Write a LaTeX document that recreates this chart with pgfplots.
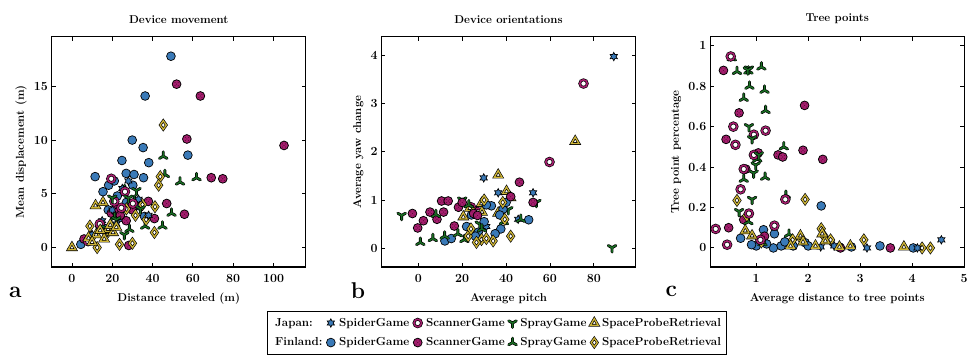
\documentclass[border=0pt]{standalone}
\usepackage{pgfplots}
\pgfplotsset{compat=1.18}
\definecolor{cblue}{RGB}{58,122,184}
\definecolor{cmag}{RGB}{165,30,110}
\definecolor{cdmag}{RGB}{90,10,55}
\definecolor{cgreen}{RGB}{25,110,35}
\definecolor{cgold}{RGB}{205,180,55}
\makeatletter
\def\mkYpath{\pgfpathmoveto{\pgfqpointpolar{-90}{\pgfplotmarksize}}\pgfpathlineto{\pgfpointorigin}%
  \pgfpathlineto{\pgfqpointpolar{30}{\pgfplotmarksize}}\pgfpathmoveto{\pgfpointorigin}%
  \pgfpathlineto{\pgfqpointpolar{150}{\pgfplotmarksize}}}
\def\mkLpath{\pgfpathmoveto{\pgfqpointpolar{90}{\pgfplotmarksize}}\pgfpathlineto{\pgfpointorigin}%
  \pgfpathlineto{\pgfqpointpolar{-30}{\pgfplotmarksize}}\pgfpathmoveto{\pgfpointorigin}%
  \pgfpathlineto{\pgfqpointpolar{210}{\pgfplotmarksize}}}
\def\mkTpath{\pgfpathmoveto{\pgfqpointpolar{90}{\pgfplotmarksize}}%
  \pgfpathlineto{\pgfqpointpolar{210}{\pgfplotmarksize}}%
  \pgfpathlineto{\pgfqpointpolar{330}{\pgfplotmarksize}}\pgfpathclose}
\def\mkDpath{\pgfpathmoveto{\pgfqpoint{0pt}{\pgfplotmarksize}}%
  \pgfpathlineto{\pgfqpoint{0.7\pgfplotmarksize}{0pt}}%
  \pgfpathlineto{\pgfqpoint{0pt}{-\pgfplotmarksize}}%
  \pgfpathlineto{\pgfqpoint{-0.7\pgfplotmarksize}{0pt}}\pgfpathclose}
\def\mkSpath{\pgfpathmoveto{\pgfqpointpolar{90}{\pgfplotmarksize}}%
  \pgfpathlineto{\pgfqpointpolar{120}{0.55\pgfplotmarksize}}\pgfpathlineto{\pgfqpointpolar{150}{\pgfplotmarksize}}%
  \pgfpathlineto{\pgfqpointpolar{180}{0.55\pgfplotmarksize}}\pgfpathlineto{\pgfqpointpolar{210}{\pgfplotmarksize}}%
  \pgfpathlineto{\pgfqpointpolar{240}{0.55\pgfplotmarksize}}\pgfpathlineto{\pgfqpointpolar{270}{\pgfplotmarksize}}%
  \pgfpathlineto{\pgfqpointpolar{300}{0.55\pgfplotmarksize}}\pgfpathlineto{\pgfqpointpolar{330}{\pgfplotmarksize}}%
  \pgfpathlineto{\pgfqpointpolar{0}{0.55\pgfplotmarksize}}\pgfpathlineto{\pgfqpointpolar{30}{\pgfplotmarksize}}%
  \pgfpathlineto{\pgfqpointpolar{60}{0.55\pgfplotmarksize}}\pgfpathclose}
\pgfdeclareplotmark{jS}{\mkSpath\pgfsetlinewidth{0.7bp}\pgfsetstrokecolor{black}\pgfsetfillcolor{cblue}\pgfusepathqfillstroke}
\pgfdeclareplotmark{jY}{\pgfsetroundcap\mkYpath\pgfsetlinewidth{2.9bp}\pgfsetstrokecolor{black}\pgfusepathqstroke
  \mkYpath\pgfsetlinewidth{1.5bp}\pgfsetstrokecolor{cgreen}\pgfusepathqstroke}
\pgfdeclareplotmark{fL}{\pgfsetroundcap\mkLpath\pgfsetlinewidth{2.9bp}\pgfsetstrokecolor{black}\pgfusepathqstroke
  \mkLpath\pgfsetlinewidth{1.5bp}\pgfsetstrokecolor{cgreen}\pgfusepathqstroke}
\pgfdeclareplotmark{jT}{\mkTpath\pgfsetlinewidth{2.6bp}\pgfsetstrokecolor{black}\pgfsetfillcolor{white}\pgfusepathqfillstroke
  \mkTpath\pgfsetlinewidth{1.3bp}\pgfsetstrokecolor{cgold}\pgfusepathqstroke}
\pgfdeclareplotmark{fD}{\mkDpath\pgfsetlinewidth{2.6bp}\pgfsetstrokecolor{black}\pgfsetfillcolor{white}\pgfusepathqfillstroke
  \mkDpath\pgfsetlinewidth{1.3bp}\pgfsetstrokecolor{cgold}\pgfusepathqstroke}
\pgfdeclareplotmark{jO}{\pgfpathcircle{\pgfpointorigin}{\pgfplotmarksize}\pgfsetlinewidth{2.8bp}\pgfsetstrokecolor{black}\pgfsetfillcolor{white}\pgfusepathqfillstroke
  \pgfpathcircle{\pgfpointorigin}{\pgfplotmarksize}\pgfsetlinewidth{1.5bp}\pgfsetstrokecolor{cmag}\pgfusepathqstroke}
\pgfdeclareplotmark{fO}{\pgfpathcircle{\pgfpointorigin}{\pgfplotmarksize}\pgfsetlinewidth{0.8bp}\pgfsetstrokecolor{black}\pgfsetfillcolor{cmag}\pgfusepathqfillstroke
  \pgfsetfillcolor{cdmag}%
  \pgfpathcircle{\pgfqpoint{1.6bp}{1.6bp}}{0.6bp}\pgfpathcircle{\pgfqpoint{-1.6bp}{1.6bp}}{0.6bp}%
  \pgfpathcircle{\pgfqpoint{1.6bp}{-1.6bp}}{0.6bp}\pgfpathcircle{\pgfqpoint{-1.6bp}{-1.6bp}}{0.6bp}%
  \pgfpathcircle{\pgfqpoint{0bp}{0bp}}{0.6bp}\pgfusepathqfill}
\pgfdeclareplotmark{fB}{\pgfpathcircle{\pgfpointorigin}{\pgfplotmarksize}\pgfsetlinewidth{0.7bp}\pgfsetstrokecolor{black}\pgfsetfillcolor{cblue}\pgfusepathqfillstroke}
\makeatother
\pgfplotsset{
  base/.style={scale only axis, width=255bp, height=231bp, anchor=south west,
    line width=1.2bp, major tick length=4bp,
    tick style={line width=0.9bp, black},
    /pgf/number format/assume math mode=true,
    tick label style={font=\fontsize{12.5}{14}\selectfont\bfseries},
    xticklabel style={yshift=-4bp},
    label style={font=\fontsize{11.5}{13}\selectfont\bfseries},
    xlabel style={yshift=-3bp},
    title style={font=\fontsize{11.5}{13}\selectfont\bfseries, yshift=3bp},
    clip=false},
  jspider/.style={only marks, mark=jS, mark size=4.2bp},
  fspider/.style={only marks, mark=fB, mark size=4.4bp},
  jscan/.style={only marks, mark=jO, mark size=3.8bp},
  fscan/.style={only marks, mark=fO, mark size=4.4bp},
  jspray/.style={only marks, mark=jY, mark size=4.4bp},
  fspray/.style={only marks, mark=fL, mark size=4.4bp},
  jspace/.style={only marks, mark=jT, mark size=4.4bp},
  fspace/.style={only marks, mark=fD, mark size=4.4bp},
}
\begin{document}
\begin{tikzpicture}
\path (0,-91bp) rectangle (971bp,268bp);
% ---------------- panel a
\begin{axis}[base, at={(52bp,0bp)},
  xmin=-10, xmax=116, ymin=-1.8, ymax=19.6,
  xtick={0,20,40,60,80,100}, ytick={0,5,10,15},
  title={Device movement},
  xlabel={Distance traveled (m)}, ylabel={Mean displacement (m)}]
\addplot[fspider] coordinates {(49.1,17.8)(36.3,14.1)(29.9,10.0)(35.3,9.3)(38.1,7.9)(24.8,8.1)(57.5,8.6)(26.9,6.9)(30.8,6.8)(11.5,6.6)(35.5,6.5)(30.2,5.8)(15.4,5.2)(18.2,5.8)(21.0,6.2)(22.5,4.8)(18,3.5)(27,4.2)(33,3.9)(4.4,0.3)(16,1.8)(24,2.8)(36,2.9)};
\addplot[fscan] coordinates {(51.9,15.2)(63.7,14.1)(57.0,10.1)(105.2,9.5)(69.1,6.5)(74.8,6.4)(47.0,4.1)(37.9,4.3)(55.8,3.1)(40.9,2.7)(26.9,2.5)(28.2,0.2)(13.8,2.0)(6.0,0.8)(21.9,3.6)(19.5,3.2)(24,3.0)(30,3.5)};
\addplot[fspray] coordinates {(45.3,8.5)(46.1,6.8)(53.6,6.1)(61.8,6.5)(49.4,3.2)(44.9,2.0)(36.3,2.0)(28.5,1.7)(26.1,5.4)(21.2,2.8)(31,4.4)(14,1.5)(0,0.0)};
\addplot[fspace] coordinates {(45.3,11.4)(43.8,6.6)(43.0,5.8)(41.2,3.8)(40.9,1.4)(36.8,2.6)(31.5,3.0)(23.6,0.3)(12.5,0.0)(8.9,2.0)(35,4.0)(27,3.6)(18,1.5)(10,1.0)(30,0.4)};
\addplot[jspider] coordinates {(20,3.5)(25,5.5)(33,4.5)(15,2.5)(28,6.2)(38,3.0)(10,1.2)(22,2.2)};
\addplot[jscan] coordinates {(19.5,6.4)(26.3,5.2)(30.2,4.1)(24.5,3.7)(13.8,2.2)(21,4.3)(8,0.6)};
\addplot[jspray] coordinates {(28,4.6)(32,5.3)(22,2.6)(17,1.8)(26,1.2)(34,3.6)(20,4.6)};
\addplot[jspace] coordinates {(11.7,3.9)(15.4,4.2)(17.9,1.7)(20.4,1.4)(8.2,0.9)(0,0)(12,1.2)(16,0.8)(14,1.6)(19,2.1)(10,0.5)(22,1.9)};
\end{axis}
\node[anchor=base west, font=\fontsize{23}{25}\selectfont\bfseries, inner sep=0pt] at (9bp,-31bp) {a};
% ---------------- panel b
\begin{axis}[base, at={(383bp,0bp)},
  xmin=-16.8, xmax=99, ymin=-0.39, ymax=4.39,
  xtick={0,20,40,60,80}, ytick={0,1,2,3,4},
  title={Device orientations},
  xlabel={Average pitch}, ylabel={Average yaw change},
  legend columns=5,
  legend style={at={(-0.452,-0.19)}, anchor=north west, draw=black, line width=1.2bp,
    font=\fontsize{11.7}{13}\selectfont\bfseries, inner xsep=4bp, inner ysep=5bp, row sep=6bp,
    /tikz/every odd column/.append style={column sep=2bp},
    /tikz/every even column/.append style={column sep=2bp}},
  legend cell align=left]
\addlegendimage{empty legend}\addlegendentry{Japan:}
\addplot[jspider] coordinates {(89.1,3.98)(29.8,1.46)(52.3,1.15)(36.4,1.15)(45.5,0.6)(25,0.8)(31,0.45)};
\addlegendentry{SpiderGame}
\addplot[jscan] coordinates {(75.3,3.42)(59.8,1.79)(27,0.75)(24,0.85)};
\addlegendentry{ScannerGame}
\addplot[jspray] coordinates {(-7.6,0.68)(88.3,0.01)(53.8,0.95)(20,1.0)(41,0.8)(28,0.5)};
\addlegendentry{SprayGame}
\addplot[jspace] coordinates {(71.5,2.22)(36.4,1.52)(40.2,1.18)(23.5,0.83)(28.8,0.93)(36.4,0.73)(20.5,0.65)(25,0.75)(29,0.75)(42,1.05)};
\addlegendentry{SpaceProbeRetrieval}
\addlegendimage{empty legend}\addlegendentry{Finland:}
\addplot[fspider] coordinates {(50.3,0.59)(37.6,0.4)(33.3,0.88)(27.3,0.33)(12.1,0.15)(24.2,0.69)(38.6,0.81)(37.1,0.69)(30,0.55)(26,0.25)(35,0.3)(22,0.45)(40,0.95)(15,0.2)(31,0.9)};
\addlegendentry{SpiderGame}
\addplot[fscan] coordinates {(46.1,1.37)(52.3,0.95)(42.1,1.07)(10.6,0.98)(13.6,0.98)(-2.7,0.72)(5.3,0.75)(11.5,0.75)(2.3,0.57)(-0.3,0.42)(8.5,0.6)(16.4,0.46)(18.3,0.85)(25.2,0.72)(20,0.95)(27,0.68)};
\addlegendentry{ScannerGame}
\addplot[fspray] coordinates {(0.9,0.12)(6.6,0.2)(21.0,0.18)(46.7,0.6)(12,0.25)(8,0.7)(29,0.4)(18,0.3)(39,0.55)(23,0.9)};
\addlegendentry{SprayGame}
\addplot[fspace] coordinates {(42.1,0.25)(34.1,0.15)(28.8,0.18)(39.4,0.6)(22.7,0.25)(26.5,0.12)(38.5,0.95)(24,0.4)(31,0.2)(30,1.0)};
\addlegendentry{SpaceProbeRetrieval}
\end{axis}
\node[anchor=base west, font=\fontsize{23}{25}\selectfont\bfseries, inner sep=0pt] at (352bp,-32bp) {b};
% ---------------- panel c
\begin{axis}[base, at={(713bp,0bp)},
  xmin=0.115, xmax=5, ymin=-0.094, ymax=1.044,
  xtick={1,2,3,4,5}, ytick={0,0.2,0.4,0.6,0.8,1},
  title={Tree points},
  xlabel={Average distance to tree points}, ylabel={Tree point percentage}]
\addplot[fspider] coordinates {(2.25,0.208)(0.70,0.048)(1.0,0.01)(1.33,0.0)(1.35,0.07)(1.14,0.09)(1.94,0.026)(1.71,0.01)(2.83,0.005)(3.38,0.01)(4.02,0.0)(1.48,0.01)(0.91,0.016)(1.2,0.02)(2.0,0.01)(2.6,0.005)(1.55,0.03)};
\addplot[fscan] coordinates {(0.37,0.878)(0.67,0.668)(1.93,0.705)(0.42,0.537)(1.90,0.483)(2.28,0.438)(1.42,0.46)(1.51,0.45)(1.04,0.47)(0.47,0.10)(1.16,0.058)(2.62,0.0)(3.58,0.0)(0.76,0.14)(0.8,0.39)(1.08,0.04)};
\addplot[fspray] coordinates {(0.53,0.94)(0.63,0.873)(0.85,0.875)(1.10,0.895)(0.87,0.80)(1.16,0.78)(0.76,0.74)(1.18,0.68)(1.53,0.50)(1.02,0.44)(1.17,0.35)(0.76,0.34)(1.63,0.068)(0.85,0.13)(1.57,0.26)(1.12,0.025)};
\addplot[fspace] coordinates {(0.63,0.235)(1.94,0.24)(2.25,0.095)(2.43,0.04)(3.07,0.04)(4.19,0.0)(4.35,0.0)(1.7,0.04)(0.82,0.16)(1.1,0.03)(2.3,0.06)(1.85,0.05)};
\addplot[jspider] coordinates {(4.56,0.04)(3.13,0.0)(2.24,0.005)(1.06,0.04)(2.5,0.01)(4.1,0.0)};
\addplot[jscan] coordinates {(0.51,0.947)(0.56,0.60)(0.955,0.56)(1.18,0.58)(0.60,0.51)(0.76,0.39)(0.70,0.29)(1.56,0.24)(1.35,0.11)(0.22,0.094)(0.44,0.016)(0.955,0.46)(0.86,0.17)(1.08,0.04)};
\addplot[jspray] coordinates {(0.86,0.885)(0.86,0.60)(0.92,0.24)(0.92,0.54)(1.05,0.46)(0.99,0.41)(0.95,0.37)(0.67,0.18)(0.84,0.88)};
\addplot[jspace] coordinates {(0.79,0.085)(0.92,0.06)(1.66,0.01)(1.85,0.06)(2.14,0.01)(2.81,0.01)(3.84,0.005)(2.33,0.035)(2.27,0.07)(1.9,0.03)(2.6,0.005)};
\end{axis}
\node[anchor=base west, font=\fontsize{23}{25}\selectfont\bfseries, inner sep=0pt] at (668bp,-30bp) {c};
\end{tikzpicture}
\end{document}
